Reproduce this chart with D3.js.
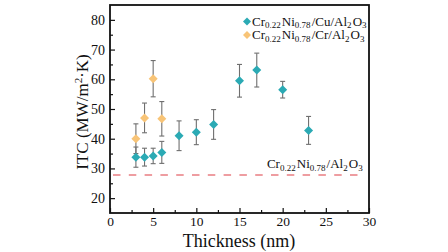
<!DOCTYPE html>
<html>
<head>
<meta charset="utf-8">
<script src="https://cdn.jsdelivr.net/npm/d3@7"></script>
<style>
  body { margin: 0; background: #fff; }
  text { font-family: "Liberation Serif", "Times New Roman", serif; }
</style>
</head>
<body>
<svg width="448" height="252"></svg>
<script>
// толщина слоя (нм) и ITC для двух серий
const thickCu = [3, 4, 5, 6, 8, 10, 12, 15, 17, 20, 23];
const itcCu = [33.8, 33.8, 34.2, 35.4, 41.0, 42.2, 44.8, 59.5, 63.1, 56.5, 42.8];
const errCu = [3.4, 3.0, 2.6, 3.7, 5.0, 4.2, 5.0, 5.5, 5.7, 2.8, 4.7];

const thickCr = [3, 4, 5, 6];
const itcCr = [40.0, 47.0, 60.2, 46.7];
const errCr = [5.0, 5.0, 6.1, 5.8];

const baseline = 27.8; // Cr0.22Ni0.78/Al2O3
const xTicks = [0, 5, 10, 15, 20, 25, 30];
const yTicks = [20, 30, 40, 50, 60, 70, 80];

const svg = d3.select("svg");
const mLeft = 110, mRight = 369, mTop = 5, mBottom = 213;

const x = d3.scaleLinear().domain([0, 30]).range([mLeft, mRight]);
const y = d3.scaleLinear().domain([15, 85]).range([mBottom, mTop]);

const teal = "#2BAAB4";
const orange = "#F8C477";

// минорные деления
svg.append("g")
    .attr("transform", `translate(0,${mBottom})`)
    .call(d3.axisBottom(x).tickValues(d3.range(2.5, 30, 5)).tickSize(-3).tickFormat(""))
    .call(g => g.select(".domain").remove());
svg.append("g")
    .attr("transform", `translate(${mLeft},0)`)
    .call(d3.axisLeft(y).tickValues(d3.range(25, 85, 10)).tickSize(-3).tickFormat(""))
    .call(g => g.select(".domain").remove());

// основные оси
const gx = svg.append("g")
    .attr("transform", `translate(0,${mBottom})`)
    .call(d3.axisBottom(x).tickValues(xTicks).tickSize(-5).tickPadding(3));
gx.select(".domain").remove();
gx.selectAll("text").attr("font-size", 13.5).attr("fill", "#111");

const gy = svg.append("g")
    .attr("transform", `translate(${mLeft},0)`)
    .call(d3.axisLeft(y).tickValues(yTicks).tickSize(-5).tickPadding(5));
gy.select(".domain").remove();
gy.selectAll("text").attr("font-size", 14).attr("fill", "#111");

svg.selectAll(".tick line").attr("stroke", "#111").attr("stroke-width", 1.2);

// рамка
svg.append("rect")
    .attr("x", mLeft).attr("y", mTop)
    .attr("width", mRight - mLeft).attr("height", mBottom - mTop)
    .attr("fill", "none").attr("stroke", "#111").attr("stroke-width", 1.8);

// пунктир базового уровня
svg.append("line")
    .attr("x1", x(0) + 3).attr("x2", x(29.2))
    .attr("y1", y(baseline)).attr("y2", y(baseline))
    .attr("stroke", "#E97E83").attr("stroke-width", 1.5)
    .attr("stroke-dasharray", "7.5,8.3");

function subText(g, parts, size, subSize) {
    const t = g.append("text").attr("font-size", size).attr("fill", "#111");
    parts.forEach(p => {
        if (p.sub) {
            t.append("tspan").attr("font-size", subSize).attr("dy", 2.5).text(p.sub);
            t.append("tspan").attr("dy", -2.5).text("\u200A");
        } else {
            t.append("tspan").text(p.t);
        }
    });
    return t;
}

subText(svg, [{t: "Cr"}, {sub: "0.22"}, {t: "Ni"}, {sub: "0.78"}, {t: "/Al"}, {sub: "2"}, {t: "O"}, {sub: "3"}], 13, 9)
    .attr("x", x(29.4)).attr("y", 168).attr("text-anchor", "end");

function drawSeries(xs, ys, es, color) {
    const g = svg.append("g");
    const data = xs.map((d, i) => ({x: d, y: ys[i], e: es[i]}));
    const bars = g.selectAll("g").data(data).join("g").attr("stroke", "#6f6f6f").attr("stroke-width", 1.1);
    bars.append("line")
        .attr("x1", d => x(d.x)).attr("x2", d => x(d.x))
        .attr("y1", d => y(d.y - d.e)).attr("y2", d => y(d.y + d.e));
    bars.append("line")
        .attr("x1", d => x(d.x) - 2.5).attr("x2", d => x(d.x) + 2.5)
        .attr("y1", d => y(d.y + d.e)).attr("y2", d => y(d.y + d.e));
    bars.append("line")
        .attr("x1", d => x(d.x) - 2.5).attr("x2", d => x(d.x) + 2.5)
        .attr("y1", d => y(d.y - d.e)).attr("y2", d => y(d.y - d.e));
    g.selectAll("path").data(data).join("path")
        .attr("d", "M0,-4.5L4.5,0L0,4.5L-4.5,0Z")
        .attr("transform", d => `translate(${x(d.x)},${y(d.y)})`)
        .attr("fill", color);
}

drawSeries(thickCr, itcCr, errCr, orange);
drawSeries(thickCu, itcCu, errCu, teal);

// легенда
const legend = [
    {color: teal, parts: [{t: "Cr"}, {sub: "0.22"}, {t: "Ni"}, {sub: "0.78"}, {t: "/Cu/Al"}, {sub: "2"}, {t: "O"}, {sub: "3"}]},
    {color: orange, parts: [{t: "Cr"}, {sub: "0.22"}, {t: "Ni"}, {sub: "0.78"}, {t: "/Cr/Al"}, {sub: "2"}, {t: "O"}, {sub: "3"}]}
];
legend.forEach((l, i) => {
    const yy = 21.5 + i * 13.5;
    svg.append("path")
        .attr("d", "M0,-4L4,0L0,4L-4,0Z")
        .attr("transform", `translate(247,${yy})`)
        .attr("fill", l.color);
    subText(svg, l.parts, 13, 9).attr("x", 252).attr("y", yy + 4);
});

// подписи осей
svg.append("text")
    .attr("x", 239).attr("y", 247)
    .attr("text-anchor", "middle").attr("font-size", 18).attr("fill", "#111")
    .text("Thickness (nm)");

const yl = svg.append("text")
    .attr("transform", "translate(88,112) rotate(-90)")
    .attr("text-anchor", "middle").attr("font-size", 17).attr("fill", "#111");
yl.append("tspan").text("ITC (MW/m");
yl.append("tspan").attr("font-size", 11).attr("dy", -6).text("2");
yl.append("tspan").attr("dy", 6).text("\u00B7K)");
</script>
</body>
</html>
